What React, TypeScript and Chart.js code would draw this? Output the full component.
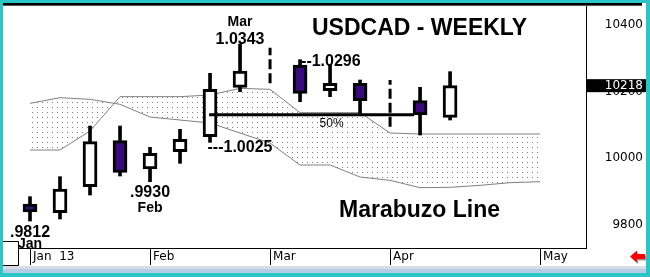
import React, { useEffect, useRef } from 'react';
import { Chart, registerables } from 'chart.js';

Chart.register(...registerables);

// ---- data (weekly USDCAD, x = week index from first week of Jan 2013) ----
const candleWeeks = [0, 1, 2, 3, 4, 5, 6, 7, 9, 10, 11, 13, 14];
const opens = [9863, 9837, 9915, 10053, 9968, 10020, 10065, 10213, 10280, 10203, 10225, 10173, 10123];
const highs = [9885, 9945, 10097, 10097, 10033, 10087, 10255, 10343, 10296, 10280, 10235, 10213, 10260];
const lows = [9812, 9818, 9890, 9947, 9930, 9985, 10048, 10200, 10170, 10185, 10135, 10070, 10115];
const closes = [9839, 9908, 10050, 9958, 10015, 10057, 10207, 10262, 10195, 10225, 10173, 10130, 10218];

// weeks drawn only as a dashed range
const rangeWeeks = [8, 12];
const rangeHighs = [10332, 10235];
const rangeLows = [10225, 10095];

// cloud
const cloudWeeks = [0, 1, 2, 3, 4, 5, 6, 7, 8, 9, 10, 11, 12, 13, 14, 15, 16, 17];
const spanA = [10165, 10182, 10177, 10162, 10124, 10115, 10106, 10076, 10046, 9980, 9980, 9944, 9934, 9912, 9913, 9919, 9927, 9930];
const spanB = [10025, 10025, 10082, 10185, 10185, 10185, 10190, 10210, 10207, 10137, 10137, 10137, 10076, 10073, 10073, 10073, 10073, 10073];

// Marabuzo (50%) line
const marabuzoLevel = 10131;
const marabuzoWeeks = [5.97, 12.8];

// axes
const monthWeeks = [0, 4, 8, 12, 17];
const monthLabels = ['Jan  13', 'Feb', 'Mar', 'Apr', 'May'];
const priceTicks = [9800, 10000, 10200, 10400];
const lastPrice = 10218;

const PURPLE = '#3a0b7e';
const TEAL = '#2cc5c5';
const BOLD = '"Liberation Sans", Arial, sans-serif';
const AXISFONT = '"DejaVu Sans", sans-serif';

export default function App() {
  const ref = useRef<HTMLCanvasElement | null>(null);

  useEffect(() => {
    document.body.style.margin = '0';
    const canvas = ref.current;
    if (!canvas) return;
    const ctx = canvas.getContext('2d')!;

    const pc = document.createElement('canvas');
    pc.width = 5;
    pc.height = 5;
    const pctx = pc.getContext('2d')!;
    pctx.fillStyle = '#7c7c7c';
    pctx.fillRect(2, 2, 1, 1);
    const pattern = ctx.createPattern(pc, 'repeat')!;

    const background = {
      id: 'background',
      beforeDraw(chart: any) {
        const c = chart.ctx;
        c.save();
        c.fillStyle = TEAL;
        c.fillRect(0, 0, 650, 277);
        c.fillStyle = '#ffffff';
        c.fillRect(3, 3, 643, 263);
        c.fillStyle = '#000000';
        c.fillRect(3, 3, 639, 2);
        c.fillStyle = '#555555';
        c.fillRect(3, 5, 639, 1);
        c.fillStyle = '#d8dde2';
        c.fillRect(3, 266, 643, 3);
        c.fillStyle = '#b5cee6';
        c.fillRect(3, 269, 643, 4);
        c.restore();
      },
    };

    const annotations = {
      id: 'annotations',
      afterDraw(chart: any) {
        const c = chart.ctx;
        const xs = chart.scales.x;
        const ys = chart.scales.y;
        const px = (w: number) => xs.getPixelForValue(w);
        const py = (v: number) => ys.getPixelForValue(v);
        c.save();
        c.fillStyle = '#000';
        c.textBaseline = 'alphabetic';

        // titles
        c.font = `bold 23px ${BOLD}`;
        c.textAlign = 'left';
        c.fillText('USDCAD - WEEKLY', 312, 35);
        c.fillText('Marabuzo Line', 339, 217);

        // value labels
        c.font = `bold 16px ${BOLD}`;
        c.textAlign = 'center';
        c.fillText('1.0343', px(7), py(10343));
        c.fillText('.9930', px(4), py(9930) + 15);
        c.fillText('.9812', px(0), py(9812) + 15.5);
        c.textAlign = 'left';
        c.fillText('--1.0296', px(9) + 1, py(10296) + 6);
        c.fillText('---1.0025', px(6) - 2.5, py(10048) + 9.5);

        c.font = `bold 14px ${BOLD}`;
        c.textAlign = 'center';
        c.fillText('Mar', px(7), py(10343) - 18);
        c.fillText('Feb', px(4), py(9930) + 30);
        c.fillText('Jan', px(0), py(9812) + 27);

        c.font = `12px ${BOLD}`;
        c.fillText('50%', px(10.05), py(marabuzoLevel) + 12.5);

        // small box at bottom-left
        c.fillStyle = '#fff';
        c.fillRect(3, 241.5, 15, 24.5);
        c.strokeStyle = '#000';
        c.lineWidth = 1;
        c.beginPath();
        c.moveTo(3, 241.5);
        c.lineTo(18.5, 241.5);
        c.lineTo(18.5, 265.5);
        c.lineTo(3, 265.5);
        c.stroke();

        // last price box
        const yl = py(lastPrice);
        c.fillStyle = '#000';
        c.fillRect(587, yl - 6.5, 59, 13);
        c.fillStyle = '#fff';
        c.font = `12px ${AXISFONT}`;
        c.textAlign = 'right';
        c.textBaseline = 'middle';
        c.fillText(String(lastPrice), 643, yl);

        // red arrow
        const arrow = (dx: number, dy: number, col: string) => {
          c.fillStyle = col;
          c.beginPath();
          c.moveTo(630 + dx, 256.5 + dy);
          c.lineTo(637 + dx, 250.5 + dy);
          c.lineTo(637 + dx, 254 + dy);
          c.lineTo(645 + dx, 254 + dy);
          c.lineTo(645 + dx, 259 + dy);
          c.lineTo(637 + dx, 259 + dy);
          c.lineTo(637 + dx, 262.5 + dy);
          c.closePath();
          c.fill();
        };
        arrow(1, 1.5, '#9a9a9a');
        arrow(0, 0, '#ff0000');
        c.restore();
      },
    };

    const noPad = (s: any) => {
      s.paddingTop = 0;
      s.paddingBottom = 0;
      s.paddingLeft = 0;
      s.paddingRight = 0;
    };

    const chart = new Chart(ctx, {
      type: 'line',
      data: {
        datasets: [
          {
            type: 'line',
            label: '50%',
            data: marabuzoWeeks.map((w) => ({ x: w, y: marabuzoLevel })),
            borderColor: '#000',
            borderWidth: 3,
            pointRadius: 0,
            order: 0,
          } as any,
          {
            type: 'bar',
            label: 'body',
            data: candleWeeks.map((w, i) => ({ x: w, y: [opens[i], closes[i]] })),
            backgroundColor: candleWeeks.map((_, i) => (closes[i] < opens[i] ? PURPLE : '#ffffff')),
            borderColor: '#000',
            borderWidth: 3,
            borderSkipped: false,
            barThickness: 14,
            grouped: false,
            order: 1,
          } as any,
          {
            type: 'bar',
            label: 'wick',
            data: candleWeeks.map((w, i) => ({ x: w, y: [lows[i], highs[i]] })),
            backgroundColor: '#000',
            borderWidth: 0,
            barThickness: 3,
            grouped: false,
            order: 2,
          } as any,
          ...rangeWeeks.map(
            (w, i) =>
              ({
                type: 'line',
                label: 'range' + i,
                data: [
                  { x: w, y: rangeLows[i] },
                  { x: w, y: rangeHighs[i] },
                ],
                borderColor: '#000',
                borderWidth: 3,
                borderDash: [10, 4],
                borderCapStyle: 'butt',
                pointRadius: 0,
                order: 2,
              } as any)
          ),
          {
            type: 'line',
            label: 'spanA',
            data: cloudWeeks.map((w, i) => ({ x: w, y: spanA[i] })),
            borderColor: '#808080',
            borderWidth: 1,
            pointRadius: 0,
            fill: false,
            order: 5,
          } as any,
          {
            type: 'line',
            label: 'spanB',
            data: cloudWeeks.map((w, i) => ({ x: w, y: spanB[i] })),
            borderColor: '#808080',
            borderWidth: 1,
            pointRadius: 0,
            fill: '-1',
            backgroundColor: pattern,
            order: 5,
          } as any,
        ],
      },
      options: {
        responsive: false,
        animation: false,
        devicePixelRatio: 1,
        layout: { padding: { left: 3, top: 6, right: 7, bottom: 11 } },
        plugins: { legend: { display: false }, tooltip: { enabled: false } },
        scales: {
          x: {
            type: 'linear',
            min: -0.9,
            max: 18.53,
            offset: false,
            afterFit: (s: any) => {
              s.height = 18;
              noPad(s);
            },
            afterBuildTicks: (s: any) => {
              s.ticks = monthWeeks.map((v) => ({ value: v }));
            },
            ticks: {
              autoSkip: false,
              maxRotation: 0,
              align: 'start',
              labelOffset: 3,
              padding: -15,
              color: '#000',
              font: { family: AXISFONT, size: 12 },
              callback: (v: any) => {
                const k = monthWeeks.indexOf(Number(v));
                return k >= 0 ? monthLabels[k] : '';
              },
            },
            grid: {
              display: true,
              offset: false,
              drawOnChartArea: false,
              drawTicks: true,
              tickLength: 17,
              tickColor: '#000',
              tickWidth: 1,
            },
            border: { display: true, color: '#000', width: 1 },
          },
          y: {
            type: 'linear',
            position: 'right',
            min: 9731,
            max: 10457,
            afterFit: (s: any) => {
              s.width = 57;
              noPad(s);
            },
            afterBuildTicks: (s: any) => {
              s.ticks = priceTicks.map((v) => ({ value: v }));
            },
            ticks: {
              crossAlign: 'far',
              padding: 14,
              color: '#000',
              font: { family: AXISFONT, size: 12 },
              callback: (v: any) => String(v),
            },
            grid: { display: false },
            border: { display: true, color: '#000', width: 1 },
          },
        },
      } as any,
      plugins: [background, annotations],
    });

    return () => chart.destroy();
  }, []);

  return <canvas ref={ref} width={650} height={277} style={{ display: 'block', width: 650, height: 277 }} />;
}
